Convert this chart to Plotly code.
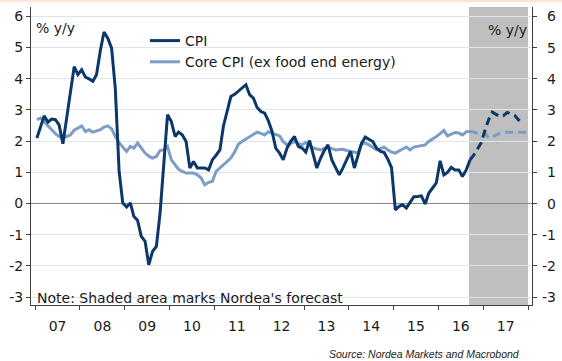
import pandas as pd
import plotly.graph_objects as go

# ---------------- data (monthly, y/y %) ----------------
cpi_actual = [
    # 2007
    2.10, 2.45, 2.81, 2.61, 2.71, 2.69, 2.52, 1.92, 2.75, 3.55, 4.39, 4.13,
    # 2008
    4.29, 4.05, 4.00, 3.92, 4.13, 4.90, 5.50, 5.30, 4.98, 3.70, 1.05, 0.02,
    # 2009
    -0.11, 0.02, -0.41, -0.54, -1.05, -1.21, -1.96, -1.53, -1.37, -0.31, 1.40, 2.85,
    # 2010
    2.63, 2.15, 2.29, 2.20, 1.99, 1.14, 1.35, 1.14, 1.14, 1.14, 1.08, 1.40,
    # 2011
    1.55, 1.72, 2.47, 3.00, 3.43, 3.50, 3.60, 3.70, 3.81, 3.49, 3.38, 3.08,
    # 2012
    2.95, 2.90, 2.66, 2.31, 1.78, 1.62, 1.40, 1.78, 2.00, 2.15, 1.83, 1.78,
    # 2013
    1.65, 2.02, 1.56, 1.14, 1.45, 1.70, 1.88, 1.40, 1.15, 0.92, 1.15, 1.40,
    # 2014
    1.67, 1.14, 1.55, 1.94, 2.13, 2.05, 1.99, 1.78, 1.67, 1.64, 1.42, 1.15,
    # 2015
    -0.20, -0.09, -0.04, -0.14, 0.02, 0.22, 0.23, 0.25, -0.01, 0.34, 0.50, 0.66,
    # 2016 (Jan-Sep)
    1.37, 0.92, 1.00, 1.16, 1.08, 1.08, 0.87, 1.08, 1.40,
]
cpi_forecast = [  # Sep 2016 - Nov 2017
    1.40, 1.55, 1.75, 1.95, 2.35, 2.70, 2.93, 2.85, 2.79, 2.82, 2.92, 2.87, 2.82, 2.68, 2.58,
]
core_actual = [
    # 2007
    2.69, 2.74, 2.62, 2.50, 2.35, 2.24, 2.15, 2.10, 2.15, 2.20, 2.35, 2.42,
    # 2008
    2.49, 2.31, 2.37, 2.29, 2.32, 2.37, 2.45, 2.49, 2.40, 2.15, 1.95, 1.80,
    # 2009
    1.67, 1.83, 1.78, 1.94, 1.78, 1.62, 1.52, 1.46, 1.51, 1.70, 1.72, 1.83,
    # 2010
    1.40, 1.25, 1.10, 1.03, 0.98, 0.98, 0.98, 0.92, 0.82, 0.60, 0.68, 0.71,
    # 2011
    1.03, 1.14, 1.24, 1.35, 1.46, 1.65, 1.90, 1.99, 2.07, 2.15, 2.22, 2.29,
    # 2012
    2.25, 2.20, 2.30, 2.25, 2.20, 2.17, 1.99, 1.88, 1.93, 1.99, 1.92, 1.88,
    # 2013
    1.96, 1.88, 1.78, 1.75, 1.72, 1.77, 1.81, 1.76, 1.72, 1.73, 1.74, 1.70,
    # 2014
    1.67, 1.64, 1.62, 1.92, 1.94, 1.88, 1.81, 1.72, 1.76, 1.81, 1.72, 1.65,
    # 2015
    1.62, 1.70, 1.75, 1.81, 1.72, 1.81, 1.83, 1.86, 1.88, 1.99, 2.06, 2.15,
    # 2016 (Jan-Sep)
    2.24, 2.34, 2.17, 2.22, 2.28, 2.26, 2.20, 2.30, 2.32,
]
core_forecast = [  # Sep 2016 - Dec 2017
    2.32, 2.28, 2.26, 2.26, 2.26, 2.10, 2.12, 2.20, 2.25, 2.28, 2.29, 2.29, 2.29, 2.29, 2.29, 2.29,
]
y_ticks = [-3, -2, -1, 0, 1, 2, 3, 4, 5, 6]
y_tick_labels = ["-3", "-2", "-1", "0", "1", "2", "3", "4", "5", "6"]
series_names = ["CPI", "Core CPI (ex food end energy)"]
forecast_start = "2016-09-06"
forecast_end = "2018-01-01"

start = pd.Timestamp("2007-01-01")
def month_dates(first_idx, n):
    return [start + pd.DateOffset(months=first_idx + i) + pd.Timedelta(days=14) for i in range(n)]

d_cpi_a = month_dates(0, len(cpi_actual))
d_cpi_f = month_dates(len(cpi_actual) - 1, len(cpi_forecast))
d_core_a = month_dates(0, len(core_actual))
d_core_f = month_dates(len(core_actual) - 1, len(core_forecast))

NAVY = "#0b3868"
LIGHT = "#7c9dc7"
FONT = "DejaVu Sans"
FS = 14
TXT = "#1a1a1a"

fig = go.Figure()
fig.add_trace(go.Scatter(x=d_core_a, y=core_actual, mode="lines", name=series_names[1],
                         line=dict(color=LIGHT, width=3), legendrank=2))
fig.add_trace(go.Scatter(x=d_core_f, y=core_forecast, mode="lines", showlegend=False,
                         line=dict(color=LIGHT, width=3, dash="8px,5px")))
fig.add_trace(go.Scatter(x=d_cpi_a, y=cpi_actual, mode="lines", name=series_names[0],
                         line=dict(color=NAVY, width=3), legendrank=1))
fig.add_trace(go.Scatter(x=d_cpi_f, y=cpi_forecast, mode="lines", showlegend=False,
                         line=dict(color=NAVY, width=3, dash="8px,5px")))
# carrier for right axis
fig.add_trace(go.Scatter(x=[d_cpi_a[0]], y=[0], yaxis="y2", mode="lines", showlegend=False,
                         hoverinfo="skip", line=dict(width=0)))

yr = [-3.25, 6.3]
L, R, T, B = 31, 30, 7, 56
W, H = 562, 361
pw, ph = W - L - R, H - T - B

def px_x(p):
    return (p - L) / pw
def px_y(p):
    return 1 - (p - T) / ph

fig.add_shape(type="rect", xref="x", yref="paper", x0=forecast_start, x1=forecast_end,
              y0=0, y1=1, fillcolor="#bfbfbf", line=dict(width=0), layer="below")
# thin top strip
fig.add_shape(type="rect", xref="paper", yref="paper", x0=px_x(0), x1=px_x(W),
              y0=px_y(2), y1=px_y(0), fillcolor="#fbe4d5", line=dict(width=0), layer="below")

annotations = [
    dict(text="% y/y", xref="paper", yref="paper", x=px_x(34), y=px_y(28),
         xanchor="left", yanchor="middle", showarrow=False, font=dict(size=FS, family=FONT, color=TXT)),
    dict(text="% y/y", xref="paper", yref="paper", x=px_x(529), y=px_y(30),
         xanchor="right", yanchor="middle", showarrow=False, font=dict(size=FS, family=FONT, color=TXT)),
    dict(text="Note: Shaded area marks Nordea's forecast", xref="paper", yref="paper",
         x=px_x(35), y=px_y(297.5), xanchor="left", yanchor="middle", showarrow=False,
         font=dict(size=FS, family=FONT, color=TXT)),
    dict(text="<i>Source: Nordea Markets and Macrobond</i>", xref="paper", yref="paper",
         x=px_x(522), y=px_y(354), xanchor="right", yanchor="middle", showarrow=False,
         font=dict(size=10.5, family="Liberation Sans", color=TXT)),
]
for v, lab in zip(y_ticks, y_tick_labels):
    annotations.append(dict(text=lab, xref="paper", yref="y", x=px_x(558), y=v,
                            xanchor="right", yanchor="middle", showarrow=False,
                            font=dict(size=FS, family=FONT, color=TXT)))

fig.update_layout(
    width=W, height=H,
    margin=dict(l=L, r=R, t=T, b=B),
    paper_bgcolor="white", plot_bgcolor="white",
    font=dict(family=FONT, size=FS, color=TXT),
    showlegend=True,
    legend=dict(x=px_x(145), y=px_y(25), xanchor="left", yanchor="top",
                bgcolor="rgba(0,0,0,0)", font=dict(size=FS, family=FONT, color=TXT),
                tracegroupgap=0, itemwidth=30),
    xaxis=dict(
        type="date", range=["2006-11-28", "2018-02-02"],
        dtick="M12", tick0="2007-01-01", tickformat="%y", ticklabelmode="period",
        ticks="outside", ticklen=4, tickcolor="#404040", showline=True, linecolor="#404040",
        linewidth=1, showgrid=False, zeroline=False, ticklabelstandoff=4,
        tickfont=dict(size=FS, family=FONT, color=TXT),
    ),
    yaxis=dict(
        range=yr, tickvals=y_ticks, ticktext=y_tick_labels, ticks="outside", ticklen=4,
        tickcolor="#404040", showline=True, linecolor="#404040", linewidth=1,
        showgrid=True, gridcolor="#dfe5ec", gridwidth=1,
        zeroline=True, zerolinecolor="#8a8a8a", zerolinewidth=1,
        tickfont=dict(size=FS, family=FONT, color=TXT),
    ),
    yaxis2=dict(
        range=yr, tickvals=y_ticks, overlaying="y", side="right", ticks="outside", ticklen=4,
        tickcolor="#404040", showline=True, linecolor="#404040", linewidth=1,
        showgrid=False, zeroline=False, showticklabels=False,
    ),
    annotations=annotations,
)

fig.write_html("out.html", config={"displayModeBar": False},
               post_script="document.body.style.margin='0';document.body.style.padding='0';")
